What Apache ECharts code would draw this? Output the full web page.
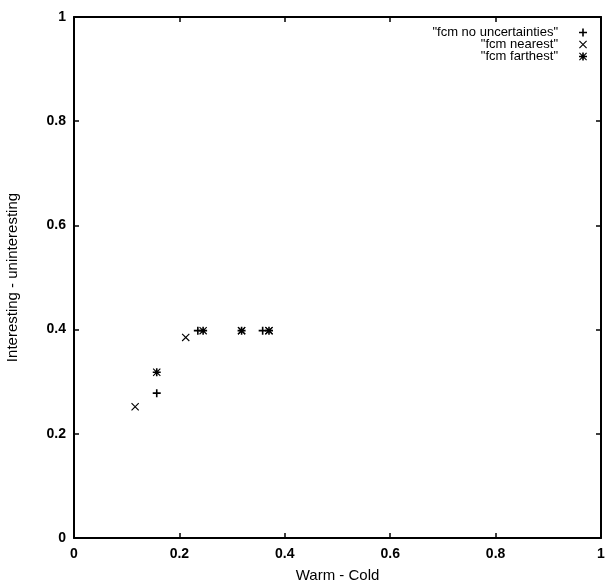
<!DOCTYPE html>
<html>
<head>
<meta charset="utf-8">
<script src="https://cdn.jsdelivr.net/npm/echarts@6/dist/echarts.min.js"></script>
<style>
    html, body { margin: 0; padding: 0; background: #fff; }
    #chart { width: 606px; height: 587px; }
</style>
</head>
<body>
<div id="chart"></div>
<script>
// values
const noUncertainties = [[0.157, 0.278], [0.235, 0.398], [0.358, 0.398]]
const nearest = [[0.116, 0.252], [0.212, 0.385], [0.318, 0.398], [0.37, 0.398]]
const farthest = [[0.157, 0.318], [0.245, 0.398], [0.318, 0.398], [0.37, 0.398]]
const seriesNames = ['"fcm no uncertainties"', '"fcm nearest"', '"fcm farthest"']

// gnuplot point types, drawn as filled paths
const plusPath = 'path://M4,0L6,0L6,10L4,10Z M0,4L10,4L10,6L0,6Z'
const crossPath = 'path://M0,1L1,0L10,9L9,10Z M9,0L10,1L1,10L0,9Z'
const starPath = 'path://M4,0L6,0L6,10L4,10Z M0,4L10,4L10,6L0,6Z M0,1L1,0L10,9L9,10Z M9,0L10,1L1,10L0,9Z'
const symbols = [plusPath, crossPath, starPath]

const font = 'Liberation Sans'
const chart = echarts.init(document.getElementById('chart'))

const axisCommon = {
    type: 'value',
    min: 0,
    max: 1,
    interval: 0.2,
    splitLine: { show: false },
    axisLine: { show: true, onZero: false, lineStyle: { color: '#000', width: 2 } },
    axisTick: { show: true, inside: true, length: 5, lineStyle: { color: '#000', width: 1.5 } }
}

const legendTops = [26, 38, 50]

chart.setOption({
    animation: false,
    backgroundColor: '#fff',
    textStyle: { fontFamily: font },
    grid: { left: 74, right: 5, top: 17, bottom: 49, outerBoundsMode: 'none' },
    legend: seriesNames.map((name, i) => ({
        data: [{ name: name, icon: symbols[i] }],
        right: 19,
        top: legendTops[i],
        align: 'right',
        itemWidth: 8,
        itemHeight: 8,
        itemGap: 0,
        padding: 0,
        selectedMode: false,
        textStyle: { fontFamily: font, fontSize: 13, color: '#000', padding: [0, 16, 0, 0] }
    })),
    xAxis: [
        {
            ...axisCommon,
            position: 'bottom',
            name: 'Warm - Cold',
            nameLocation: 'middle',
            nameGap: 30,
            nameTextStyle: { fontFamily: font, fontSize: 15, color: '#000' },
            axisLabel: { color: '#000', fontFamily: font, fontSize: 14, fontWeight: 'bold', margin: 9 }
        },
        { ...axisCommon, position: 'top', axisLabel: { show: false } }
    ],
    yAxis: [
        {
            ...axisCommon,
            position: 'left',
            name: 'Interesting - uninteresting',
            nameLocation: 'middle',
            nameGap: 54,
            nameTextStyle: { fontFamily: font, fontSize: 15, color: '#000' },
            axisLabel: { color: '#000', fontFamily: font, fontSize: 14, fontWeight: 'bold', margin: 8 }
        },
        { ...axisCommon, position: 'right', axisLabel: { show: false } }
    ],
    series: [noUncertainties, nearest, farthest].map((data, i) => ({
        name: seriesNames[i],
        type: 'scatter',
        data: data,
        symbol: symbols[i],
        symbolSize: 8,
        itemStyle: { color: '#000', opacity: 1 },
        emphasis: { disabled: true }
    }))
})
</script>
</body>
</html>
